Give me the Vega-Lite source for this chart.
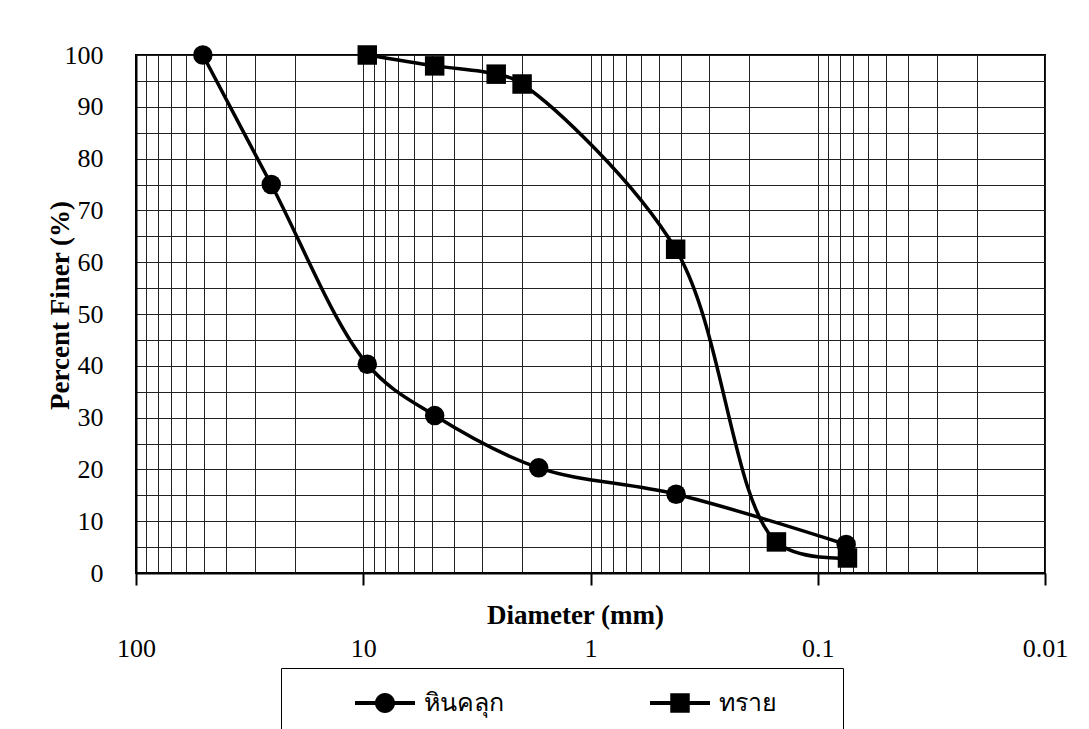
{
  "$schema": "https://vega.github.io/schema/vega-lite/v6.json",
  "width": 909,
  "height": 518,
  "autosize": {"type": "none"},
  "padding": {"left": 136, "top": 55, "right": 44, "bottom": 156},
  "background": "white",
  "config": {
    "view": {"stroke": "black", "strokeWidth": 2},
    "font": "Liberation Serif"
  },
  "data": {
    "values": [
      {"d": 50.8, "p": 100, "s": "หินคลุก"},
      {"d": 25.4, "p": 75, "s": "หินคลุก"},
      {"d": 9.6, "p": 40.3, "s": "หินคลุก"},
      {"d": 4.85, "p": 30.4, "s": "หินคลุก"},
      {"d": 1.69, "p": 20.3, "s": "หินคลุก"},
      {"d": 0.42, "p": 15.2, "s": "หินคลุก"},
      {"d": 0.075, "p": 5.5, "s": "หินคลุก"},
      {"d": 9.6, "p": 100, "s": "ทราย"},
      {"d": 4.85, "p": 97.9, "s": "ทราย"},
      {"d": 2.6, "p": 96.3, "s": "ทราย"},
      {"d": 2.0, "p": 94.4, "s": "ทราย"},
      {"d": 0.422, "p": 62.5, "s": "ทราย"},
      {"d": 0.152, "p": 6.0, "s": "ทราย"},
      {"d": 0.074, "p": 2.9, "s": "ทราย"}
    ]
  },
  "encoding": {
    "x": {
      "field": "d",
      "type": "quantitative",
      "scale": {"type": "log", "domain": [0.01, 100], "reverse": true},
      "axis": {
        "values": [0.01, 0.02, 0.03, 0.04, 0.05, 0.06, 0.07, 0.08, 0.09, 0.1, 0.2, 0.3, 0.4, 0.5, 0.6, 0.7, 0.8, 0.9, 1, 2, 3, 4, 5, 6, 7, 8, 9, 10, 20, 30, 40, 50, 60, 70, 80, 90, 100],
        "grid": true,
        "gridColor": "#222222",
        "gridWidth": 1,
        "gridOpacity": 1,
        "domainColor": "black",
        "domainWidth": 2,
        "tickColor": "black",
        "tickWidth": 2,
        "tickSize": 12,
        "tickOpacity": {"condition": {"test": "abs(log(datum.value)/LN10 - round(log(datum.value)/LN10)) < 0.000001", "value": 1}, "value": 0},
        "labelExpr": "abs(log(datum.value)/LN10 - round(log(datum.value)/LN10)) < 0.000001 ? '' + datum.value : ''",
        "labelFont": "Liberation Serif",
        "labelFontSize": 26,
        "labelColor": "black",
        "labelPadding": 50,
        "labelBaseline": "top",
        "labelFlush": false,
        "labelOverlap": false,
        "title": "Diameter (mm)",
        "titleFont": "Liberation Serif",
        "titleFontSize": 27,
        "titleFontWeight": "bold",
        "titleColor": "black",
        "titleX": 439,
        "titleY": 42,
        "titleAlign": "center",
        "titleBaseline": "middle"
      }
    },
    "y": {
      "field": "p",
      "type": "quantitative",
      "scale": {"domain": [0, 100], "nice": false},
      "axis": {
        "values": [0, 5, 10, 15, 20, 25, 30, 35, 40, 45, 50, 55, 60, 65, 70, 75, 80, 85, 90, 95, 100],
        "grid": true,
        "gridColor": "#222222",
        "gridWidth": 1,
        "gridOpacity": 1,
        "domainColor": "black",
        "domainWidth": 2,
        "ticks": false,
        "labelExpr": "datum.value % 10 === 0 ? '' + datum.value : ''",
        "labelFont": "Liberation Serif",
        "labelFontSize": 26,
        "labelColor": "black",
        "labelPadding": 33,
        "labelFlush": false,
        "labelOverlap": false,
        "title": "Percent Finer (%)",
        "titleFont": "Liberation Serif",
        "titleFontSize": 27,
        "titleFontWeight": "bold",
        "titleColor": "black",
        "titleAngle": -90,
        "titleX": -76,
        "titleY": 250,
        "titleAlign": "center",
        "titleBaseline": "middle"
      }
    }
  },
  "layer": [
    {
      "mark": {"type": "line", "interpolate": "catmull-rom", "strokeWidth": 3.5, "color": "black"},
      "encoding": {"detail": {"field": "s"}}
    },
    {
      "mark": {"type": "point", "filled": true, "size": 380, "opacity": 1, "color": "black", "strokeWidth": 0},
      "encoding": {
        "shape": {
          "field": "s",
          "type": "nominal",
          "scale": {"domain": ["หินคลุก", "ทราย"], "range": ["circle", "square"]},
          "legend": null
        }
      }
    },
    {
      "transform": [{"filter": "datum.p > 1000"}],
      "mark": {"type": "point", "filled": true, "size": 380, "opacity": 1, "color": "black", "strokeWidth": 0},
      "encoding": {
        "shape": {
          "field": "s",
          "type": "nominal",
          "scale": {
            "domain": ["หินคลุก", "ทราย"],
            "range": [
              "M-2,-0.13H2V0.13H-2Z M-0.67,0A0.67,0.67 0 1,1 0.67,0A0.67,0.67 0 1,1 -0.67,0Z",
              "M-2,-0.13H2V0.13H-2Z M-0.65,-0.65H0.65V0.65H-0.65Z"
            ]
          },
          "legend": {
            "orient": "none",
            "legendX": 145,
            "legendY": 613,
            "direction": "horizontal",
            "title": ".",
            "titleOrient": "right",
            "titleColor": "white",
            "titleFontSize": 10,
            "titlePadding": 43,
            "strokeColor": "black",
            "fillColor": "white",
            "padding": 20,
            "symbolSize": 900,
            "symbolStrokeWidth": 0,
            "symbolFillColor": "black",
            "symbolOpacity": 1,
            "symbolOffset": 69,
            "labelOffset": 24,
            "columnPadding": 92,
            "labelFont": "Liberation Serif",
            "labelFontSize": 25,
            "labelColor": "black",
            "labelLimit": 400
          }
        }
      }
    }
  ],
  "resolve": {"scale": {"shape": "independent"}, "legend": {"shape": "independent"}}
}
